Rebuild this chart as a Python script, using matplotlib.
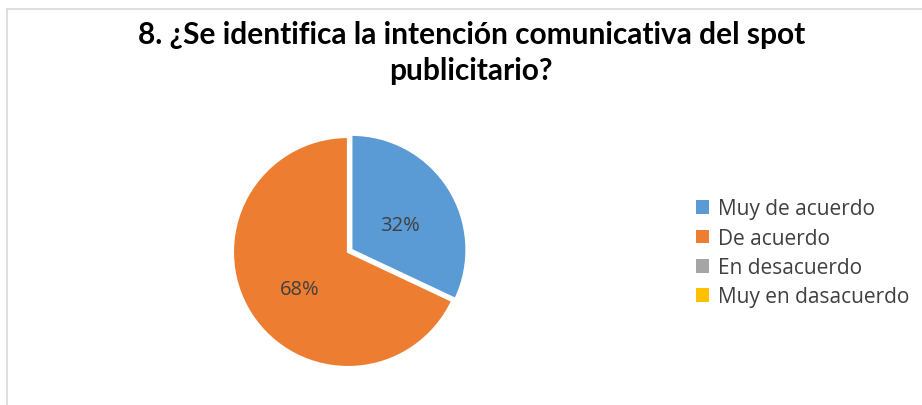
import matplotlib.pyplot as plt
from matplotlib.patches import Patch

# survey answers and their shares (percent)
categories = ["Muy de acuerdo", "De acuerdo", "En desacuerdo", "Muy en dasacuerdo"]
shares = [32, 68, 0, 0]
colors = ["#5B9BD5", "#ED7D31", "#A5A5A5", "#FFC000"]
explode = [0.035, 0, 0, 0]

title = "8. ¿Se identifica la intención comunicativa del spot\npublicitario?"

W, H = 922, 406
fig = plt.figure(figsize=(W / 100, H / 100), dpi=100)
fig.set_facecolor("white")

# thin gray frame around the chart area
fig.add_artist(plt.Line2D([7 / W, 1], [1 - 10 / H, 1 - 10 / H], color="#D9D9D9", lw=1.2))
fig.add_artist(plt.Line2D([7 / W, 7 / W], [0, 1 - 10 / H], color="#D9D9D9", lw=1.2))

# pie axes: center (348, 253) px, radius 115 px
cx, cy, r = 348, 253, 115
ax = fig.add_axes([(cx - r) / W, (H - cy - r) / H, 2 * r / W, 2 * r / H])


def fmt(p):
    return f"{p:.0f}%" if p > 0.5 else ""


wedges, texts, autotexts = ax.pie(
    shares,
    colors=colors,
    explode=explode,
    startangle=90,
    counterclock=False,
    autopct=fmt,
    pctdistance=0.5,
    radius=1,
    wedgeprops=dict(edgecolor="white", linewidth=1.5),
    textprops=dict(color="#404040", fontsize=14.5, family="Open Sans"),
)
# nudge percentage labels slightly downward
for t in autotexts:
    x, y = t.get_position()
    t.set_position((x, y - 0.05))

ax.set_xlim(-1, 1)
ax.set_ylim(-1, 1)
ax.set_aspect("equal")

fig.text(
    0.511, 1 - 53 / H, title,
    ha="center", va="center", fontsize=21.5, fontweight="bold",
    family="Lato", color="black", linespacing=1.35,
)

handles = [Patch(facecolor=c, edgecolor="none") for c in colors]
fig.legend(
    handles, categories,
    loc="center left", bbox_to_anchor=(686 / W, 1 - 254 / H),
    frameon=False, prop=dict(family="Open Sans", size=15),
    labelcolor="#404040", handlelength=0.62, handleheight=0.62,
    handletextpad=0.4, labelspacing=0.4, borderpad=0,
)

fig.savefig("out.png", dpi=100, facecolor="white")
